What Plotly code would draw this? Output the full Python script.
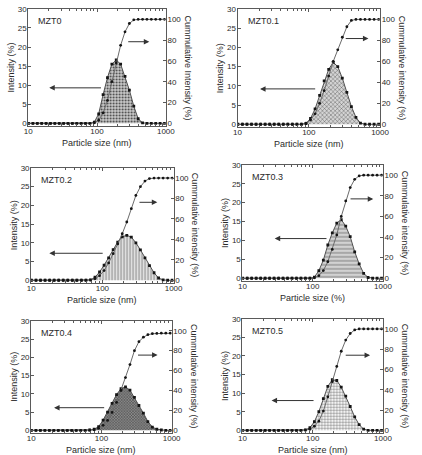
import math
import plotly.graph_objects as go

# ---------------- data ----------------
sizes_nm = [10.1, 11.7, 13.54, 15.69, 18.17, 21.04, 24.36, 28.21, 32.67, 37.84,
            43.82, 50.75, 58.77, 68.06, 78.82, 91.28, 105.7, 122.4, 141.8, 164.2,
            190.1, 220.2, 255.0, 295.3, 342.0, 396.1, 458.7, 531.2, 615.1, 712.4,
            825.0, 955.4]

samples = ["MZT0", "MZT0.1", "MZT0.2", "MZT0.3", "MZT0.4", "MZT0.5"]

int_mzt0 = [0] * 15 + [0.3, 2.5, 7.5, 12.0, 15.5, 16.6, 15.5, 12.3, 8.7, 4.5, 1.2, 0.1] + [0] * 5
cum_mzt0 = [0] * 15 + [0.5, 3, 10, 22, 40, 58, 75, 88, 96, 99.5] + [100] * 7

int_mzt01 = [0] * 15 + [0.2, 1.5, 4.0, 7.5, 11.3, 14.3, 16.1, 15.0, 12.0, 8.3, 4.6, 1.8, 0.3] + [0] * 4
cum_mzt01 = [0] * 15 + [1, 4, 10, 20, 32, 46, 60, 71, 83, 93, 99] + [100] * 6

int_mzt02 = [0] * 13 + [0.1, 0.8, 2.2, 4.0, 6.0, 8.2, 10.2, 11.6, 12.0, 11.5, 10.0, 8.1, 6.0,
                        3.9, 2.0, 0.6, 0.1] + [0] * 2
cum_mzt02 = [0] * 13 + [0.2, 1.5, 4.5, 9.5, 17, 26, 35.5, 45.5, 57, 70, 83, 91.5, 97, 99.5] + [100] * 5

int_mzt03 = [0] * 16 + [0.3, 2.0, 4.8, 8.8, 12.0, 14.6, 15.5, 13.8, 11.0, 7.0, 3.8, 1.3, 0.2] + [0] * 3
cum_mzt03 = [0] * 16 + [0.5, 2.5, 7.5, 16, 28, 42, 60, 75, 88, 96, 99.3] + [100] * 5

int_mzt04 = [0] * 13 + [0.1, 0.3, 1.0, 2.8, 5.0, 7.4, 9.8, 11.4, 11.9, 11.0, 9.0, 6.8, 4.7,
                        2.4, 0.9, 0.3, 0.1] + [0] * 2
cum_mzt04 = [0] * 13 + [0.2, 0.6, 2, 5, 10, 18, 28, 40, 53, 66, 80, 89, 93.5, 96, 97, 97.3,
                        97.5, 97.5, 97.5]

int_mzt05 = [0] * 14 + [0.1, 0.7, 2.3, 5.0, 8.5, 11.8, 13.6, 13.4, 11.6, 9.2, 6.4, 3.6, 1.5, 0.3] + [0] * 4
cum_mzt05 = [0] * 14 + [0.2, 1, 4, 9, 19, 33, 48, 63, 78, 89, 95.5, 99] + [100] * 6

intensities = [int_mzt0, int_mzt01, int_mzt02, int_mzt03, int_mzt04, int_mzt05]
cumulatives = [cum_mzt0, cum_mzt01, cum_mzt02, cum_mzt03, cum_mzt04, cum_mzt05]

x_titles = ["Particle size (nm)", "Particle size (nm)", "Particle size (nm)",
            "Particle size (%)", "Particle size (nm)", "Particle size (nm)"]
y_title = "Intensity (%)"
y2_titles = ["Cummulative Intensity (%)", "Cummulative intensity (%)", "Cummulative intensity (%)",
             "Cummulative intensity (%)", "Cummulative intensity (%)", "Cummulative intensity (%)"]

# arrows: (head_x_nm, tail_x_nm, y_intensity)
left_arrows = [(20.2, 120, 9.3), (20.7, 129, 9.2), (18.0, 106, 7.2),
               (28.8, 165, 10.5), (21.2, 115, 6.2), (26.0, 108, 8.0)]
right_arrows = [(575, 270, 21.4), (687, 314, 22.3), (590, 316, 20.8),
                (728, 329, 21.0), (630, 316, 20.6), (656, 281, 20.2)]

# ---------------- layout geometry (pixels) ----------------
W, H = 422, 455
boxes = [(25, 167, 5, 124), (241, 388, 5, 125), (28, 175, 166, 283),
         (246, 391, 163, 281), (28, 173, 321, 435), (246, 391, 319, 435)]

patterns = [
    dict(shape=".", bgcolor="#cccccc", fgcolor="#3a3a3a", size=3, solidity=0.3, fillmode="replace"),
    dict(shape="x", bgcolor="#d4d4d4", fgcolor="#333333", size=3, solidity=0.22, fillmode="replace"),
    dict(shape="|", bgcolor="#b4b4b4", fgcolor="#e6e6e6", size=3, solidity=0.35, fillmode="replace"),
    dict(shape="-", bgcolor="#a8a8a8", fgcolor="#eeeeee", size=4, solidity=0.3, fillmode="replace"),
    dict(shape="x", bgcolor="#8c8c8c", fgcolor="#2a2a2a", size=2, solidity=0.35, fillmode="replace"),
    dict(shape="+", bgcolor="#f2f2f2", fgcolor="#444444", size=3, solidity=0.2, fillmode="replace"),
]

FONT = "Liberation Sans, Arial, sans-serif"
TXT = "#2a2a2a"
AX = "#5a5a5a"

fig = go.Figure()
layout = dict(width=W, height=H, margin=dict(l=0, r=0, t=0, b=0),
              paper_bgcolor="white", plot_bgcolor="white", showlegend=False,
              font=dict(family=FONT, size=8, color=TXT))
annotations = []

for i in range(6):
    n = i + 1
    xname = "x" if n == 1 else f"x{n}"
    ykey_l, ykey_r = (f"yaxis{n}" if n > 1 else "yaxis"), f"yaxis{n + 6}"
    yname_l, yname_r = ("y" if n == 1 else f"y{n}"), f"y{n + 6}"
    xkey = "xaxis" if n == 1 else f"xaxis{n}"
    x0, x1, y0, y1 = boxes[i]
    xdom = [x0 / W, x1 / W]
    ydom = [1 - y1 / H, 1 - y0 / H]

    layout[xkey] = dict(domain=xdom, anchor=yname_l, type="log", range=[1, 3],
                        tickvals=[10, 100, 1000], ticktext=["10", "100", "1000"],
                        ticks="inside", ticklen=3, tickcolor=AX,
                        minor=dict(ticks="inside", ticklen=2, dtick="D1", tickcolor=AX),
                        showline=True, linecolor=AX, linewidth=1, mirror="ticks",
                        showgrid=False, zeroline=False, ticklabelstandoff=-3,
                        tickfont=dict(size=8, color=TXT))
    layout[ykey_l] = dict(domain=ydom, anchor=xname, range=[-0.8, 30], dtick=5,
                          ticks="inside", ticklen=3, tickcolor=AX,
                          showline=True, linecolor=AX, linewidth=1,
                          showgrid=False, zeroline=False, ticklabelstandoff=-1,
                          tickfont=dict(size=8, color=TXT))
    layout[ykey_r] = dict(domain=ydom, anchor=xname, overlaying=yname_l, side="right",
                          range=[-0.8 * 11 / 3, 110], tickvals=[0, 20, 40, 60, 80, 100],
                          ticks="inside", ticklen=3, tickcolor=AX,
                          showline=True, linecolor=AX, linewidth=1,
                          showgrid=False, zeroline=False, ticklabelstandoff=-1,
                          tickfont=dict(size=8, color=TXT))

    fig.add_trace(go.Scatter(
        x=sizes_nm, y=intensities[i], xaxis=xname, yaxis=yname_l,
        mode="lines+markers", fill="tozeroy", fillpattern=patterns[i],
        line=dict(color="#505050", width=1),
        marker=dict(symbol="square", size=2.8, color="#151515"),
        hoverinfo="skip"))
    fig.add_trace(go.Scatter(
        x=sizes_nm, y=cumulatives[i], xaxis=xname, yaxis=yname_r,
        mode="lines+markers", line=dict(color="#6a6a6a", width=1),
        marker=dict(symbol="circle", size=2.8, color="#151515"),
        hoverinfo="skip"))

    # sample label
    annotations.append(dict(text=samples[i], xref=f"{xname} domain", yref=f"{yname_l} domain",
                            x=0, y=1, xanchor="left", yanchor="top", xshift=8, yshift=-5,
                            showarrow=False, font=dict(size=9, color=TXT)))
    # axis titles
    annotations.append(dict(text=x_titles[i], xref="paper", yref="paper",
                            x=(x0 + x1) / 2 / W, y=1 - (y1 + 16.5) / H, xanchor="center",
                            yanchor="middle", showarrow=False, font=dict(size=9, color=TXT)))
    annotations.append(dict(text=y_title, xref="paper", yref="paper",
                            x=(x0 - 18) / W, y=1 - (y0 + y1) / 2 / H, xanchor="center",
                            yanchor="middle", textangle=-90, showarrow=False,
                            font=dict(size=9, color=TXT)))
    annotations.append(dict(text=y2_titles[i], xref="paper", yref="paper",
                            x=(x1 + 23) / W, y=1 - (y0 + y1) / 2 / H, xanchor="center",
                            yanchor="middle", textangle=90, showarrow=False,
                            font=dict(size=9, color=TXT)))
    # arrows
    hx, tx, ay = left_arrows[i]
    annotations.append(dict(x=math.log10(hx), y=ay, ax=math.log10(tx), ay=ay,
                            xref=xname, yref=yname_l, axref=xname, ayref=yname_l,
                            text="", showarrow=True, arrowhead=2, arrowsize=1.1,
                            arrowwidth=1, arrowcolor="#333333"))
    hx, tx, ay = right_arrows[i]
    annotations.append(dict(x=math.log10(hx), y=ay, ax=math.log10(tx), ay=ay,
                            xref=xname, yref=yname_l, axref=xname, ayref=yname_l,
                            text="", showarrow=True, arrowhead=2, arrowsize=1.1,
                            arrowwidth=1, arrowcolor="#333333"))

layout["annotations"] = annotations
fig.update_layout(**layout)
fig.write_html("out.html")
